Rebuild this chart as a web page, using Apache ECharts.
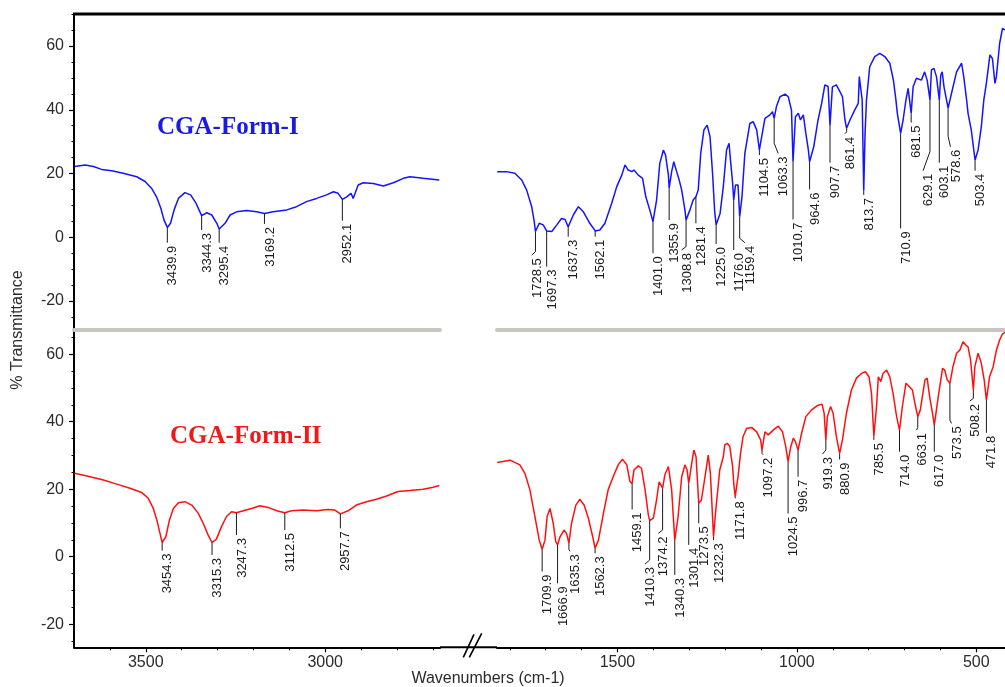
<!DOCTYPE html>
<html>
<head>
<meta charset="utf-8">
<script src="https://cdn.jsdelivr.net/npm/echarts@6/dist/echarts.min.js"></script>
<style>
  html, body { margin: 0; padding: 0; background: #ffffff; }
  #chart { width: 1005px; height: 687px; }
</style>
</head>
<body>
<div id="chart"></div>
<script>
// ---------- Axis ranges (wavenumber, cm-1) and tick values ----------
const wnHighRange = [2680, 3700];      // left block of the broken axis
const wnLowRange = [420, 1835.7];      // right block of the broken axis
const formIRange = [-29.08, 70.05];    // % transmittance, upper panel
const formIIRange = [-26.85, 67.17];   // % transmittance, lower panel

const yMajorTicks = [-20, 0, 20, 40, 60];
const yMinorTicksI = [-25, -20, -15, -10, -5, 0, 5, 10, 15, 20, 25, 30, 35, 40, 45, 50, 55, 60, 65, 70];
const yMinorTicksII = [-25, -20, -15, -10, -5, 0, 5, 10, 15, 20, 25, 30, 35, 40, 45, 50, 55, 60, 65];
const xMajorHigh = [3000, 3500];
const xMajorLow = [500, 1000, 1500];
const xMinorHigh = [2700, 2800, 2900, 3000, 3100, 3200, 3300, 3400, 3500, 3600];
const xMinorLow = [500, 600, 700, 800, 900, 1000, 1100, 1200, 1300, 1400, 1500, 1600, 1700, 1800];

// ---------- CGA Form-I spectrum [wavenumber, %T] ----------
const formIHigh = [
  [3698, 22.2], [3669, 22.7], [3646, 22.2], [3623, 21.3], [3595, 20.9], [3563, 20.1], [3525, 19.0],
  [3502, 17.5], [3484, 15.4], [3470, 12.7], [3458, 9.1], [3449, 5.4], [3439.9, 3.1], [3431, 4.4],
  [3421, 8.6], [3409, 12.2], [3391, 14.0], [3375, 13.3], [3360, 10.7], [3344.3, 6.8], [3330, 7.7],
  [3316, 7.0], [3302, 4.4], [3295.4, 2.6], [3279, 4.4], [3265, 7.0], [3247, 8.0], [3219, 8.4],
  [3191, 8.0], [3169.2, 7.5], [3145, 8.0], [3107, 8.6], [3080, 9.6], [3052, 11.2], [3024, 12.2],
  [2996, 13.3], [2977, 14.3], [2964, 13.8], [2952.1, 11.9], [2940, 12.7], [2928, 13.8], [2922, 12.2],
  [2908, 16.4], [2894, 17.1], [2866, 16.9], [2838, 16.1], [2810, 17.1], [2782, 18.5], [2764, 19.0],
  [2727, 18.5], [2682, 18.0]
];
const formILow = [
  [1835, 20.6], [1809, 20.6], [1786, 20.1], [1767, 18.0], [1753, 14.8], [1739, 9.6], [1732, 5.0],
  [1728.5, 1.8], [1718, 4.4], [1707, 3.9], [1697.3, 2.0], [1683, 1.8], [1669, 3.9], [1656, 5.9],
  [1646, 5.6], [1637.3, 3.3], [1623, 7.0], [1609, 9.6], [1595, 8.0], [1577, 4.4], [1562.1, 2.0],
  [1549, 2.3], [1535, 4.4], [1516, 10.7], [1502, 15.9], [1488, 19.5], [1479, 22.7], [1470, 21.1],
  [1460, 20.6], [1454, 21.1], [1442, 19.5], [1430, 18.5], [1421, 12.7], [1410, 8.6], [1401.0, 4.9],
  [1391, 11.7], [1382, 23.2], [1372, 27.4], [1366, 25.8], [1358, 19.5], [1355.9, 15.4], [1349, 20.6],
  [1343, 23.7], [1335, 20.6], [1328, 18.0], [1321, 14.8], [1312, 8.6], [1308.8, 5.4], [1298, 8.6],
  [1289, 11.7], [1281.4, 12.7], [1275, 14.8], [1268, 26.3], [1259, 33.7], [1250, 35.2], [1242, 31.6],
  [1235, 20.1], [1229, 8.0], [1225.0, 3.9], [1214, 7.5], [1205, 15.9], [1196, 27.4], [1189, 29.5],
  [1185, 24.2], [1179, 16.9], [1176.0, 11.7], [1171, 16.4], [1164, 16.4], [1159.4, 6.5], [1153, 12.7],
  [1145, 26.3], [1131, 35.7], [1122, 36.3], [1112, 33.7], [1104.5, 27.4], [1098, 31.6], [1089, 37.3],
  [1075, 38.4], [1068, 39.4], [1063.3, 37.3], [1057, 41.0], [1047, 44.1], [1033, 44.9], [1024, 44.1],
  [1015, 39.9], [1010.7, 23.7], [1004, 37.8], [996, 38.9], [990, 36.8], [982, 38.4], [975, 32.6],
  [968, 27.4], [964.6, 23.7], [953, 28.4], [941, 36.8], [931, 42.0], [922, 47.8], [913, 47.3],
  [907.7, 35.2], [901, 47.2], [890, 47.8], [880, 45.7], [873, 44.1], [866, 36.8], [861.4, 34.2],
  [852, 36.8], [839, 39.9], [829, 42.0], [826, 50.4], [818, 43.1], [813.7, 14.8], [810, 32.6],
  [806, 43.1], [797, 53.5], [783, 56.7], [769, 57.7], [755, 56.7], [741, 54.6], [731, 49.3],
  [724, 43.1], [720, 38.9], [710.9, 32.6], [704, 36.8], [696, 43.1], [690, 46.7], [681.5, 38.9],
  [676, 47.2], [667, 49.9], [653, 49.3], [644, 51.9], [637, 49.3], [629.1, 43.1], [625, 52.5],
  [618, 53.0], [611, 50.4], [603.1, 43.1], [599, 50.9], [595, 51.9], [590, 47.2], [578.6, 40.5],
  [569, 45.2], [555, 51.9], [541, 54.6], [535, 50.4], [527, 43.1], [523, 38.9], [514, 33.7],
  [503.4, 24.2], [495, 27.4], [486, 34.7], [479, 43.1], [472, 48.3], [462, 57.2], [455, 56.1],
  [448, 48.3], [444, 50.4], [435, 60.8], [427, 65.5], [418, 65.0]
];

// ---------- CGA Form-II spectrum [wavenumber, %T] ----------
const formIIHigh = [
  [3698, 24.7], [3655, 23.7], [3618, 22.7], [3581, 21.5], [3544, 20.3], [3511, 19.0], [3493, 17.3],
  [3479, 14.3], [3468, 10.4], [3461, 7.2], [3454.3, 4.2], [3444, 5.9], [3434, 10.9], [3423, 14.3],
  [3409, 16.0], [3391, 16.3], [3372, 15.3], [3354, 12.9], [3340, 9.9], [3326, 6.4], [3315.3, 4.2],
  [3303, 5.2], [3289, 8.9], [3275, 11.9], [3261, 13.3], [3247.3, 13.0], [3228, 13.6], [3205, 14.3],
  [3182, 15.1], [3159, 14.6], [3135, 13.6], [3112.5, 13.0], [3094, 13.6], [3061, 13.8], [3024, 13.6],
  [2992, 14.0], [2973, 13.8], [2957.7, 12.7], [2936, 13.6], [2913, 15.3], [2885, 16.3], [2857, 17.0],
  [2829, 18.0], [2797, 19.3], [2764, 19.6], [2727, 20.0], [2699, 20.6], [2682, 21.1]
];
const formIILow = [
  [1835, 27.9], [1799, 28.6], [1772, 27.2], [1758, 24.7], [1744, 19.8], [1730, 11.9], [1718, 4.9],
  [1709.9, 2.2], [1702, 4.9], [1696, 11.9], [1688, 14.3], [1679, 9.9], [1672, 4.5], [1666.9, 3.5],
  [1660, 5.9], [1649, 7.9], [1642, 6.9], [1635.3, 4.0], [1628, 9.9], [1616, 15.3], [1605, 17.0],
  [1593, 15.3], [1581, 11.4], [1569, 5.9], [1562.3, 2.5], [1553, 4.9], [1539, 12.9], [1526, 19.8],
  [1512, 23.7], [1498, 27.2], [1486, 28.9], [1474, 27.2], [1465, 22.2], [1459.1, 21.7], [1454, 25.7],
  [1442, 26.9], [1433, 26.2], [1423, 19.8], [1414, 12.4], [1410.3, 10.7], [1400, 11.4], [1391, 16.8],
  [1384, 22.2], [1374.2, 20.3], [1368, 24.2], [1358, 26.7], [1349, 19.8], [1340.3, 4.9], [1331, 11.9],
  [1321, 23.7], [1312, 27.2], [1306, 25.7], [1301.4, 21.7], [1293, 27.7], [1287, 31.6], [1281, 29.6],
  [1273.5, 15.8], [1266, 16.8], [1256, 23.7], [1247, 30.1], [1241, 24.7], [1232.3, 5.9], [1226, 13.8],
  [1215, 25.7], [1205, 29.6], [1201, 33.1], [1194, 33.6], [1187, 32.6], [1179, 26.7], [1176, 21.7],
  [1171.8, 17.8], [1164, 23.7], [1157, 30.6], [1150, 35.6], [1140, 38.0], [1126, 38.3], [1112, 37.0],
  [1101, 34.6], [1097.2, 31.6], [1089, 37.0], [1080, 36.1], [1066, 37.5], [1052, 38.7], [1040, 37.0],
  [1031, 32.6], [1024.5, 28.2], [1017, 32.6], [1010, 35.1], [1004, 34.1], [996.7, 31.6], [987, 36.5],
  [975, 41.5], [959, 43.5], [941, 44.9], [930, 45.2], [924, 42.5], [919.3, 34.6], [915, 41.5],
  [906, 44.5], [899, 42.5], [890, 35.6], [880.9, 30.6], [873, 34.6], [862, 42.5], [848, 49.4],
  [834, 52.9], [820, 54.3], [809, 54.8], [799, 53.3], [792, 48.4], [785.5, 35.6], [778, 44.5],
  [773, 53.3], [766, 51.9], [760, 54.3], [750, 55.3], [741, 53.3], [732, 48.4], [722, 41.5],
  [714.0, 37.5], [706, 44.5], [696, 51.4], [687, 50.4], [678, 49.4], [671, 45.4], [663.1, 41.5],
  [656, 43.5], [643, 52.4], [637, 52.9], [630, 47.4], [622, 42.5], [617.0, 39.0], [606, 47.4],
  [594, 55.8], [588, 55.3], [581, 52.4], [573.5, 51.4], [565, 56.3], [555, 60.3], [546, 61.2],
  [537, 63.7], [529, 62.7], [523, 62.2], [516, 58.3], [508.2, 49.4], [504, 56.3], [495, 60.3],
  [486, 57.3], [478, 52.4], [471.8, 46.4], [463, 53.3], [453, 56.3], [444, 61.2], [435, 64.2],
  [427, 66.0], [418, 66.5]
];

// ---------- Peak annotations ----------
// [peak wavenumber, leader end %T, (label wavenumber, label %T) when the leader bends]
const formIHighPeaks = [
  [3439.9, -1.7], [3344.3, 2.3], [3295.4, -1.7], [3169.2, 4.2], [2952.1, 5.2]
];
const formILowPeaks = [
  [1728.5, -4.5, 1739.1, -5.6], [1697.3, -9.2], [1637.3, 0.2], [1562.1, 0.2], [1401.0, -5.0],
  [1355.9, 5.4], [1308.8, -2.9, 1321.3, -4.0], [1281.4, 4.4], [1225.0, -2.1], [1176.0, -4.0],
  [1159.4, -0.3, 1144.9, -1.7], [1104.5, 25.8], [1063.3, 29.5, 1052.1, 26.3], [1010.7, 5.6],
  [964.6, 15.0], [907.7, 23.4], [861.4, 33.1, 866.0, 32.5], [813.7, 13.3], [710.9, 2.8],
  [681.5, 36.0], [629.1, 26.9, 648.2, 20.9], [603.1, 23.4], [578.6, 31.7, 572.0, 28.4], [503.4, 20.9]
];
const formIIHighPeaks = [
  [3454.3, 1.8], [3315.3, 0.5], [3247.3, 6.4], [3112.5, 7.9], [2957.7, 8.4]
];
const formIILowPeaks = [
  [1709.9, -4.4], [1666.9, -7.9], [1635.3, 2.2, 1632.4, 1.6], [1562.3, 1.0], [1459.1, 14.0],
  [1410.3, -1.0, 1423.4, -2.2], [1374.2, 7.9, 1386.3, 6.9], [1340.3, -5.4], [1301.4, 3.5],
  [1273.5, 9.9], [1232.3, 4.9], [1171.8, 17.3], [1097.2, 30.6, 1094.0, 30.2], [1024.5, 12.8],
  [996.7, 23.7], [919.3, 31.6, 928.6, 30.4], [880.9, 28.8], [785.5, 34.6], [714.0, 31.1],
  [663.1, 38.3, 666.7, 37.5], [617.0, 31.1], [573.5, 40.5, 569.2, 39.5], [508.2, 46.9, 518.2, 46.1],
  [471.8, 36.7]
];

// ---------- Styling ----------
const BLUE = '#1414ff';
const RED = '#ff1010';
const FONT = '"Liberation Sans", Arial, sans-serif';
const TEXT_COLOR = '#2b2b2b';

// Pair each annotation with the spectrum point it marks.
function peakItems(spectrum, peaks) {
  return peaks.map(function (p) {
    const hit = spectrum.find(function (d) { return d[0] === p[0]; });
    const lx = p.length > 2 ? p[2] : p[0];
    const ly = p.length > 2 ? p[3] : p[1];
    return [p[0], hit[1], p[1], lx, ly];
  });
}

function renderPeak(params, api) {
  const wn = api.value(0);
  const a = api.coord([wn, api.value(1)]);
  const b = api.coord([wn, api.value(2)]);
  const c = api.coord([api.value(3), api.value(4)]);
  const bent = Math.abs(c[0] - b[0]) > 0.5 || Math.abs(c[1] - b[1]) > 0.5;
  const pts = bent ? [a, b, c] : [a, b];
  return {
    type: 'group',
    children: [
      {
        type: 'polyline',
        shape: { points: pts },
        style: { stroke: '#1a1a1a', lineWidth: 1, fill: null }
      },
      {
        type: 'text',
        x: c[0] - 1,
        y: c[1] + 3,
        rotation: Math.PI / 2,
        style: {
          text: wn.toFixed(1),
          align: 'right',
          verticalAlign: 'top',
          fill: '#1a1a1a',
          font: '13px ' + FONT
        }
      }
    ]
  };
}

const grids = [
  { left: 74, top: 14, width: 366, height: 316 },
  { left: 497, top: 14, width: 508, height: 316 },
  { left: 74, top: 330, width: 366, height: 317.3 },
  { left: 497, top: 330, width: 508, height: 317.3 }
].map(function (g) { return Object.assign({ containLabel: false, outerBoundsMode: 'none' }, g); });

const noSplit = { show: false };
const plainNumber = function (v) { return String(v); };

function xBase(grid, range) {
  return {
    gridIndex: grid, type: 'value', min: range[0], max: range[1], inverse: true,
    position: 'bottom', splitLine: noSplit
  };
}
function yBase(grid, range) {
  return {
    gridIndex: grid, type: 'value', min: range[0], max: range[1],
    position: 'left', splitLine: noSplit
  };
}

const tickLabelStyle = { fontSize: 16, color: TEXT_COLOR, fontFamily: FONT, formatter: plainNumber };

const xAxes = [
  // upper panel: the grey baseline separating the two spectra
  Object.assign(xBase(0, wnHighRange), {
    axisLine: { show: true, onZero: false, lineStyle: { color: '#c9c5c1', width: 4 } },
    axisTick: { show: false }, axisLabel: { show: false }
  }),
  Object.assign(xBase(1, wnLowRange), {
    axisLine: { show: true, onZero: false, lineStyle: { color: '#c9c5c1', width: 4 } },
    axisTick: { show: false }, axisLabel: { show: false }
  }),
  // lower panel: axis line with minor ticks
  Object.assign(xBase(2, wnHighRange), {
    axisLine: { show: true, onZero: false, lineStyle: { color: '#000', width: 2 } },
    axisTick: { show: true, customValues: xMinorHigh, length: 3, lineStyle: { color: '#000', width: 1 } },
    axisLabel: { show: false }
  }),
  Object.assign(xBase(3, wnLowRange), {
    axisLine: { show: true, onZero: false, lineStyle: { color: '#000', width: 2 } },
    axisTick: { show: true, customValues: xMinorLow, length: 3, lineStyle: { color: '#000', width: 1 } },
    axisLabel: { show: false }
  }),
  // major ticks and labels
  Object.assign(xBase(2, wnHighRange), {
    axisLine: { show: false, onZero: false },
    axisTick: { show: true, customValues: xMajorHigh, length: 5, lineStyle: { color: '#000', width: 1.2 } },
    axisLabel: Object.assign({ show: true, customValues: xMajorHigh, margin: 7 }, tickLabelStyle)
  }),
  Object.assign(xBase(3, wnLowRange), {
    axisLine: { show: false, onZero: false },
    axisTick: { show: true, customValues: xMajorLow, length: 5, lineStyle: { color: '#000', width: 1.2 } },
    axisLabel: Object.assign({ show: true, customValues: xMajorLow, margin: 7 }, tickLabelStyle)
  })
];

const yAxes = [
  Object.assign(yBase(0, formIRange), {
    axisLine: { show: true, onZero: false, lineStyle: { color: '#000', width: 2 } },
    axisTick: { show: true, customValues: yMajorTicks, length: 5, lineStyle: { color: '#000', width: 1.2 } },
    axisLabel: Object.assign({ show: true, customValues: yMajorTicks, margin: 10 }, tickLabelStyle)
  }),
  Object.assign(yBase(1, formIRange), { show: false }),
  Object.assign(yBase(2, formIIRange), {
    axisLine: { show: true, onZero: false, lineStyle: { color: '#000', width: 2 } },
    axisTick: { show: true, customValues: yMajorTicks, length: 5, lineStyle: { color: '#000', width: 1.2 } },
    axisLabel: Object.assign({ show: true, customValues: yMajorTicks, margin: 10 }, tickLabelStyle)
  }),
  Object.assign(yBase(3, formIIRange), { show: false }),
  Object.assign(yBase(0, formIRange), {
    axisLine: { show: false, onZero: false },
    axisTick: { show: true, customValues: yMinorTicksI, length: 2.5, lineStyle: { color: '#000', width: 1 } },
    axisLabel: { show: false }
  }),
  Object.assign(yBase(2, formIIRange), {
    axisLine: { show: false, onZero: false },
    axisTick: { show: true, customValues: yMinorTicksII, length: 2.5, lineStyle: { color: '#000', width: 1 } },
    axisLabel: { show: false }
  })
];

function spectrumSeries(data, axis, color) {
  return {
    type: 'line', data: data, xAxisIndex: axis, yAxisIndex: axis,
    showSymbol: false, symbol: 'none', clip: true, silent: true,
    lineStyle: { color: color, width: 1.5 }, z: 3
  };
}
function peakSeries(spectrum, peaks, axis) {
  return {
    type: 'custom', data: peakItems(spectrum, peaks), xAxisIndex: axis, yAxisIndex: axis,
    renderItem: renderPeak, silent: true, z: 4
  };
}

const option = {
  animation: false,
  backgroundColor: '#ffffff',
  grid: grids,
  xAxis: xAxes,
  yAxis: yAxes,
  series: [
    spectrumSeries(formIHigh, 0, BLUE),
    spectrumSeries(formILow, 1, BLUE),
    spectrumSeries(formIIHigh, 2, RED),
    spectrumSeries(formIILow, 3, RED),
    peakSeries(formIHigh, formIHighPeaks, 0),
    peakSeries(formILow, formILowPeaks, 1),
    peakSeries(formIIHigh, formIIHighPeaks, 2),
    peakSeries(formIILow, formIILowPeaks, 3)
  ],
  graphic: [
    // frame line along the top
    { type: 'line', shape: { x1: 73, y1: 14, x2: 1005, y2: 14 }, style: { stroke: '#000', lineWidth: 3 }, z: 10 },
    // axis line across the break, and the break marks
    { type: 'line', shape: { x1: 440, y1: 647.3, x2: 497, y2: 647.3 }, style: { stroke: '#000', lineWidth: 2 }, z: 10 },
    { type: 'line', shape: { x1: 463.3, y1: 657.3, x2: 474, y2: 634.3 }, style: { stroke: '#000', lineWidth: 1.6 }, z: 10 },
    { type: 'line', shape: { x1: 469.3, y1: 657.3, x2: 481.7, y2: 633.3 }, style: { stroke: '#000', lineWidth: 1.6 }, z: 10 },
    // panel titles
    { type: 'text', x: 157, y: 128, style: { text: 'CGA-Form-I', fill: '#1a1ae8', font: 'bold 25px "Liberation Serif", "Times New Roman", serif', align: 'left', verticalAlign: 'middle' }, z: 10 },
    { type: 'text', x: 170, y: 437, style: { text: 'CGA-Form-II', fill: '#f01818', font: 'bold 25px "Liberation Serif", "Times New Roman", serif', align: 'left', verticalAlign: 'middle' }, z: 10 },
    // axis titles
    { type: 'text', x: 18, y: 330, rotation: Math.PI / 2, style: { text: '% Transmittance', fill: TEXT_COLOR, font: '16px ' + FONT, align: 'center', verticalAlign: 'middle' }, z: 10 },
    { type: 'text', x: 488, y: 679, style: { text: 'Wavenumbers (cm-1)', fill: TEXT_COLOR, font: '16px ' + FONT, align: 'center', verticalAlign: 'middle' }, z: 10 }
  ]
};

const chart = echarts.init(document.getElementById('chart'), null, { renderer: 'canvas' });
chart.setOption(option);
</script>
</body>
</html>
